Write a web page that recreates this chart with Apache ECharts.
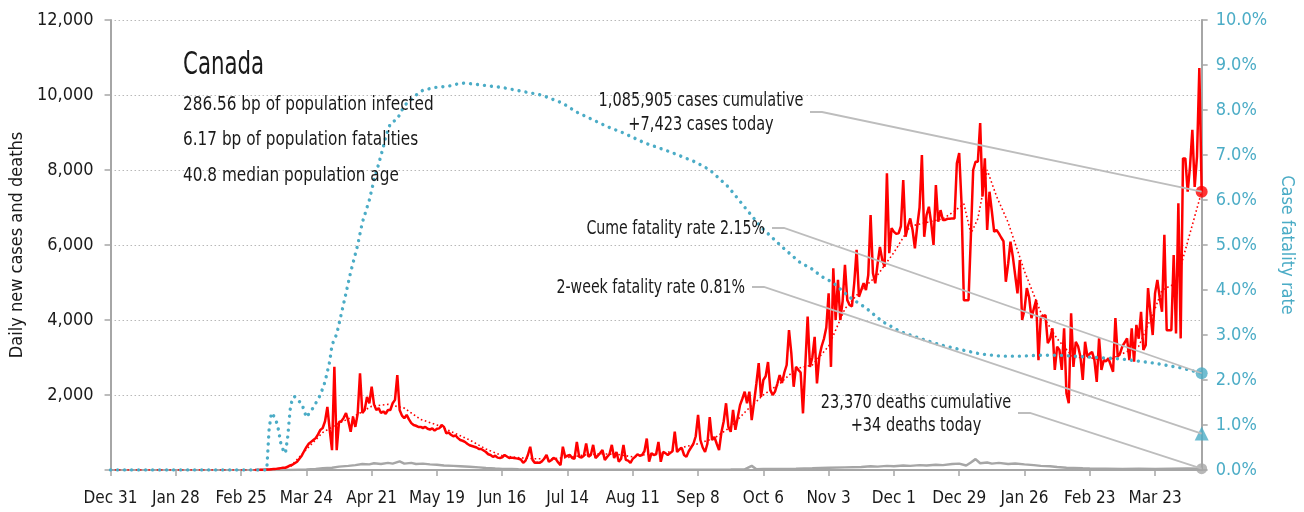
<!DOCTYPE html>
<html>
<head>
<meta charset="utf-8">
<script src="https://cdn.jsdelivr.net/npm/echarts@6/dist/echarts.min.js"></script>
<style>
html, body { margin: 0; padding: 0; background: #fff; }
#chart { width: 1304px; height: 512px; }
</style>
</head>
<body>
<div id="chart"></div>
<script>
// day index 0 = Dec 31 2019, one tick every 28 days
const tickLabels = ['Dec 31','Jan 28','Feb 25','Mar 24','Apr 21','May 19','Jun 16','Jul 14','Aug 11','Sep 8','Oct 6','Nov 3','Dec 1','Dec 29','Jan 26','Feb 23','Mar 23'];
const tickStep = 28;
const lastDay = 468;

// daily new cases, first value is day caseStart
const caseStart = 62;
const cases = [
  2,3,5,8,10,15,15,20,25,
  30,40,50,60,60,90,120,
  140,180,220,300,380,500,610,
  700,750,800,850,950,1070,1120,
  1300,1680,1070,530,2750,530,1280,
  1300,1390,1520,1300,1020,1420,1150,
  1500,2580,1520,1600,1950,1780,2220,
  1750,1600,1650,1520,1560,1500,1600,
  1600,1780,1870,2530,1600,1450,1380,
  1470,1350,1250,1200,1180,1150,1150,
  1120,1150,1100,1080,1110,1050,1100,
  1110,1200,1150,980,1000,940,900,
  920,850,800,780,750,700,660,
  640,620,600,560,560,520,480,
  420,400,350,380,330,320,340,
  400,360,320,330,320,310,300,
  280,190,250,400,620,270,190,
  200,190,230,300,400,220,260,
  320,290,200,130,620,350,380,
  400,320,300,750,350,330,380,
  710,350,400,670,320,380,450,
  530,270,350,420,670,320,480,
  220,300,670,270,250,190,300,
  350,420,380,400,500,840,220,
  450,400,420,750,220,480,450,
  400,450,500,1020,480,550,590,
  400,350,500,600,700,900,1470,
  800,600,480,700,1410,800,880,
  700,530,1000,1300,1780,1150,1020,
  1600,1070,1400,1730,1900,2090,1780,
  2090,1330,1800,2300,2850,1950,2400,
  2500,2880,2130,2000,2090,2300,2530,
  2320,2600,2800,3730,3110,2220,2750,
  2670,2600,1510,2800,4090,2750,3000,
  3550,2310,3020,3300,3500,3800,4710,
  2750,5380,4000,5070,4000,4500,5470,
  4530,4400,4360,5000,5870,4620,4800,
  4980,4800,5200,6800,5250,4980,5500,
  5950,5600,5420,7910,5780,6450,6350,
  6300,6310,6500,7730,6220,6500,6710,
  6400,5910,6500,7000,8400,6220,6800,
  7020,6580,6000,7600,6620,6930,6670,
  6670,6700,6700,6710,6710,8180,8450,
  7110,4530,4530,4530,6220,8000,8220,
  8220,9250,7290,8310,6400,7420,6900,
  6350,6400,6310,6200,6100,
  5020,5500,6090,5690,5200,4710,5600,4000,4270,4850,4600,4050,4300,4530,2930,
  4090,4100,4130,3380,3500,3780,2670,3290,3200,2670,3780,2050,1780,4180,2750,
  3420,3300,3020,2400,3420,3020,3100,
  3150,2930,2350,3510,2670,2930,2900,
  2980,2800,2620,4050,3020,3110,3300,
  3400,3510,2930,3780,2890,3870,3500,
  4220,3200,3330,4850,4200,3600,4710,
  5070,4600,4220,6270,3730,3730,3730,
  5730,3640,7110,3510,8310,8310,7420,
  8090,9070,7550,8360,10720,7423
];

// 7-day average of cases, [day, value]
const casesAvg = [
  [0,0],[63,0],[70,15],[77,80],[84,550],[91,1000],[98,1250],[105,1450],[112,1700],[119,1750],
  [126,1650],[133,1350],[140,1200],[147,1000],[154,800],[161,560],[168,380],[175,330],[182,300],
  [189,300],[196,330],[203,400],[210,430],[217,420],[224,350],[231,430],[238,450],[245,600],
  [252,700],[259,850],[266,1150],[273,1600],[280,2000],[287,2300],[294,2700],[301,2800],
  [308,3300],[315,4300],[322,4800],[329,5200],[336,5800],[343,6500],[350,6600],[357,6700],
  [362,6900],[366,7100],[369,6300],[372,6700],[376,8000],[380,7300],[385,6600],[392,5300],
  [399,4200],[406,3500],[413,3000],[420,3000],[427,2900],[434,3100],[441,3300],[448,4300],
  [451,4800],[457,4980],[468,7423]
];

// daily deaths, [day, value]
const deaths = [
  [62,0],[70,1],[77,3],[84,15],[88,30],[91,45],[95,60],[98,90],[102,110],[105,130],[108,160],
  [111,150],[113,180],[116,160],[119,190],[121,170],[124,230],[126,170],[129,190],[131,160],
  [134,170],[137,150],[140,140],[143,120],[147,110],[150,100],[154,85],[158,70],[161,55],
  [165,40],[168,30],[172,25],[175,20],[182,15],[189,12],[196,10],[203,8],[210,6],[217,5],
  [224,5],[231,7],[238,6],[245,8],[252,6],[259,10],[266,12],[272,15],[275,110],[277,20],
  [280,25],[287,30],[294,35],[301,45],[308,60],[315,70],[322,80],[326,100],[329,90],[333,110],
  [336,100],[340,120],[343,110],[347,130],[350,120],[354,140],[357,130],[361,160],[364,170],
  [367,120],[369,200],[371,290],[373,180],[376,200],[378,170],[381,190],[385,160],[388,175],
  [392,150],[396,130],[399,110],[403,100],[406,80],[410,60],[413,55],[417,45],[420,40],
  [427,35],[434,30],[441,35],[448,30],[455,35],[462,40],[468,34]
];

// cumulative case fatality rate in %, [day, value]
const fatalityRate = [
  [0,0],[67,0],[68,0.9],[69,1.27],[70,1.2],[71,1.1],[72,0.9],[73,0.6],[74,0.45],[75,0.37],
  [76,0.74],[77,1.33],[78,1.6],[79,1.63],[81,1.52],[82,1.48],[84,1.17],[87,1.39],[90,1.67],
  [92,1.96],[94,2.41],[95,2.78],[97,3.02],[100,3.7],[103,4.4],[106,5.0],[108,5.5],[111,6.0],
  [113,6.44],[115,6.8],[117,7.18],[118,7.4],[120,7.7],[123,7.8],[125,8.0],[127,8.15],
  [131,8.33],[134,8.44],[139,8.5],[145,8.53],[149,8.58],[152,8.6],[160,8.55],[168,8.5],
  [176,8.42],[185,8.33],[194,8.15],[200,7.95],[207,7.78],[213,7.63],[220,7.49],[229,7.27],
  [240,7.07],[251,6.84],[257,6.67],[265,6.29],[272,5.84],[279,5.4],[288,4.96],[296,4.6],
  [300,4.5],[305,4.3],[310,4.16],[317,3.84],[324,3.6],[331,3.3],[339,3.07],[348,2.91],
  [356,2.78],[365,2.67],[373,2.58],[382,2.53],[390,2.53],[399,2.55],[407,2.55],[419,2.51],
  [433,2.47],[447,2.38],[459,2.27],[468,2.15]
];

const casesToday = 7423;
const deathsToday = 34;
const cumeRate = 2.15;
const twoWeekRate = 0.81;

const FONT = '"DejaVu Sans Condensed", "Liberation Sans Narrow", "Roboto", sans-serif';
const RED = '#ff0000';
const BLUE = '#4bacc6';
const GRAY = '#a6a6a6';
const INK = '#1a1a1a';

const chartDom = document.getElementById('chart');
const myChart = echarts.init(chartDom);

const caseData = cases.map((v, k) => [caseStart + k, v]);
const endDay = caseStart + cases.length - 1;
const tickValues = tickLabels.map((_, k) => k * tickStep);

let option = {
    animation: false,
    grid: { left: 106, right: 102, top: 20, bottom: 42 },
    xAxis: {
        type: 'value',
        min: 0,
        max: lastDay,
        interval: tickStep,
        axisLine: { show: true, lineStyle: { color: GRAY, width: 2 } },
        axisTick: { show: true, length: 6, customValues: tickValues, lineStyle: { color: GRAY, width: 1.5 } },
        axisLabel: {
            customValues: tickValues,
            formatter: v => tickLabels[Math.round(v / tickStep)] || '',
            color: INK, fontFamily: FONT, fontSize: 17, margin: 20
        },
        splitLine: { show: false }
    },
    yAxis: [
        {
            type: 'value',
            min: 0, max: 12000, interval: 2000,
            name: 'Daily new cases and deaths',
            nameLocation: 'middle',
            nameGap: 80,
            nameTextStyle: { color: INK, fontFamily: FONT, fontSize: 18 },
            axisLine: { show: true, lineStyle: { color: GRAY, width: 2 } },
            axisTick: { show: true, length: 6, lineStyle: { color: GRAY, width: 1.5 } },
            axisLabel: {
                formatter: v => v === 0 ? '' : v.toLocaleString('en-US'),
                color: INK, fontFamily: FONT, fontSize: 18, margin: 17
            },
            splitLine: { show: true, lineStyle: { color: '#b8b8b8', type: [1.5, 2.5], width: 1.2 } }
        },
        {
            type: 'value',
            position: 'right',
            min: 0, max: 10, interval: 1,
            name: 'Case fatality rate',
            nameLocation: 'middle',
            nameRotate: -90,
            nameGap: 74,
            nameTextStyle: { color: BLUE, fontFamily: FONT, fontSize: 18 },
            axisLine: { show: true, lineStyle: { color: GRAY, width: 2 } },
            axisTick: { show: true, length: 6, lineStyle: { color: GRAY, width: 1.5 } },
            axisLabel: {
                formatter: v => v.toFixed(1) + '%',
                color: BLUE, fontFamily: FONT, fontSize: 18, margin: 14
            },
            splitLine: { show: false }
        }
    ],
    series: [
        {
            name: 'deaths', type: 'line', data: deaths, symbol: 'none',
            lineStyle: { color: GRAY, width: 2.5 }, z: 2
        },
        {
            name: 'cases avg', type: 'line', data: casesAvg, symbol: 'none',
            lineStyle: { color: RED, width: 1.6, type: [1.6, 2.6] }, z: 3
        },
        {
            name: 'cases', type: 'line', data: caseData, symbol: 'none',
            lineStyle: { color: RED, width: 2.5 }, z: 4
        },
        {
            name: 'fatality', type: 'line', yAxisIndex: 1, data: fatalityRate, symbol: 'none',
            lineStyle: { color: BLUE, width: 3.4, type: [0.01, 7], cap: 'round' }, z: 5
        },
        {
            type: 'scatter', clip: false, symbol: 'circle', symbolSize: 12, z: 10,
            itemStyle: { color: RED }, data: [[endDay, casesToday]]
        },
        {
            type: 'scatter', clip: false, symbol: 'circle', symbolSize: 11, z: 10,
            itemStyle: { color: GRAY }, data: [[endDay, deathsToday]]
        },
        {
            type: 'scatter', clip: false, yAxisIndex: 1, symbol: 'circle', symbolSize: 12, z: 10,
            itemStyle: { color: BLUE }, data: [[endDay, cumeRate]]
        },
        {
            type: 'scatter', clip: false, yAxisIndex: 1, symbol: 'triangle', symbolSize: 14, z: 10,
            itemStyle: { color: BLUE }, data: [[endDay, twoWeekRate]]
        }
    ]
};

myChart.setOption(option);

// leader lines from the notes to the end markers
const leftPx = v => myChart.convertToPixel({ xAxisIndex: 0, yAxisIndex: 0 }, [endDay, v]);
const rightPx = v => myChart.convertToPixel({ xAxisIndex: 0, yAxisIndex: 1 }, [endDay, v]);

function leader(x0, y0, end) {
    return {
        type: 'polyline', z: 20, silent: true,
        shape: { points: [[x0, y0], [x0 + 12, y0], end] },
        style: { stroke: '#bdbdbd', lineWidth: 1.8, fill: null }
    };
}
// the original uses a condensed face, squeeze the text horizontally
function note(text, x, y, size, align, squeeze) {
    return {
        type: 'text', z: 21, x: x, y: y, scaleX: squeeze, silent: true,
        style: { text: text, fill: INK, font: size + 'px ' + FONT, align: align, verticalAlign: 'middle' }
    };
}

myChart.setOption({
    graphic: [
        note('Canada', 183, 66, 32, 'left', 0.74),
        note('286.56 bp of population infected', 183, 105, 20, 'left', 0.85),
        note('6.17 bp of population fatalities', 183, 140, 20, 'left', 0.85),
        note('40.8 median population age', 183, 176, 20, 'left', 0.85),
        note('1,085,905 cases cumulative', 701, 101, 19, 'center', 0.85),
        note('+7,423 cases today', 701, 125, 19, 'center', 0.85),
        note('Cume fatality rate 2.15%', 765, 229, 19, 'right', 0.83),
        note('2-week fatality rate 0.81%', 745, 288, 19, 'right', 0.83),
        note('23,370 deaths cumulative', 916, 403, 19, 'center', 0.85),
        note('+34 deaths today', 916, 426, 19, 'center', 0.85),
        leader(810, 112, leftPx(casesToday)),
        leader(772, 228, rightPx(cumeRate)),
        leader(752, 287, rightPx(twoWeekRate)),
        leader(1018, 413, leftPx(deathsToday))
    ]
});
</script>
</body>
</html>
